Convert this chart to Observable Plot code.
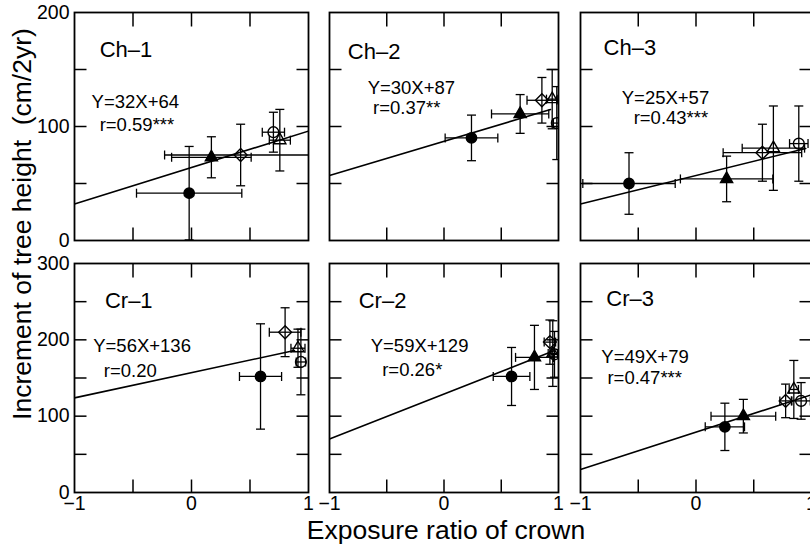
<!DOCTYPE html>
<html><head><meta charset="utf-8">
<script src="https://cdn.jsdelivr.net/npm/d3@7"></script>
<script src="https://cdn.jsdelivr.net/npm/@observablehq/plot@0.6"></script>
<style>
html,body{margin:0;padding:0;background:#fff;overflow:hidden;}
#wrap{position:relative;width:810px;height:545px;overflow:hidden;font-family:"Liberation Sans",Arial,Helvetica,sans-serif;color:#000;}
.panel{position:absolute;}
.lab{position:absolute;white-space:pre;transform:translate(-50%,-50%);font-size:26.5px;line-height:1;}
</style></head><body><div id="wrap"></div>
<script>
// ---------- data ----------
const panelNames = ["Ch–1","Ch–2","Ch–3","Cr–1","Cr–2","Cr–3"];
const eqLabels = ["Y=32X+64","Y=30X+87","Y=25X+57","Y=56X+136","Y=59X+129","Y=49X+79"];
const rLabels = ["r=0.59***","r=0.37**","r=0.43***","r=0.20","r=0.26*","r=0.47***"];
// symbol classes: 0 filled circle, 1 filled triangle, 2 open diamond, 3 open triangle, 4 open circle
const ch1Class = [0, 1, 2, 4, 3];
const ch1X     = [-0.02, 0.17, 0.42, 0.70, 0.755];
const ch1Y     = [41.5, 73, 75, 95, 88];
const ch1XErr  = [0.45, 0.34, 0.65, 0.095, 0.09];
const ch1YErr  = [41, 18, 27, 17.5, 27];

const ch2Class = [0, 1, 2, 3, 4];
const ch2X     = [0.24, 0.665, 0.855, 0.945, 0.985];
const ch2Y     = [90, 111, 123, 124, 103];
const ch2XErr  = [0.23, 0.25, 0.13, 0.05, 0.03];
const ch2YErr  = [20, 17, 20, 26, 32];

const ch3Class = [0, 1, 2, 3, 4];
const ch3X     = [-0.58, 0.265, 0.575, 0.67, 0.89];
const ch3Y     = [50, 54, 77, 81, 85];
const ch3XErr  = [0.40, 0.40, 0.34, 0.27, 0.08];
const ch3YErr  = [27, 20, 25, 37, 33];

const cr1Class = [0, 2, 3, 4];
const cr1X     = [0.59, 0.80, 0.91, 0.935];
const cr1Y     = [152, 210, 189, 171];
const cr1XErr  = [0.18, 0.135, 0.06, 0.04];
const cr1YErr  = [69, 32, 25, 43];

const cr2Class = [0, 1, 2, 3, 4];
const cr2X     = [0.59, 0.79, 0.925, 0.95, 0.965];
const cr2Y     = [152, 177, 197, 182, 181];
const cr2XErr  = [0.16, 0.165, 0.05, 0.04, 0.03];
const cr2YErr  = [38, 42, 29, 43, 30];

const cr3Class = [0, 1, 2, 3, 4];
const cr3X     = [0.25, 0.41, 0.776, 0.847, 0.91];
const cr3Y     = [86, 100, 120, 135, 120];
const cr3XErr  = [0.17, 0.28, 0.05, 0.04, 0.08];
const cr3YErr  = [31, 22, 22, 38, 24];

// regression lines as drawn
const lineSlope     = [32, 30, 25, 33, 59, 49];
const lineIntercept = [64, 87, 57, 157, 129, 79];
const lineXEnd      = [1, 0.93, 0.95, 0.88, 0.96, 1];

const rowYMax = [200, 300];
const rowYLabels = [[0, 100, 200], [0, 100, 200, 300]];
const rowYMinor = [[50, 100, 150], [50, 100, 150, 200, 250]];
const xLabels = [-1, 0, 1];
const xMinor = [-0.5, 0, 0.5];

// ---------- layout ----------
const frameLeft = [74, 329, 580], frameW = [234, 229, 231];
const frameTop = [12, 263], frameH = [228, 229];
const titlePos = [[-0.785,167],[-0.84,165],[-0.80,169],[-0.74,251],[-0.745,251],[-0.776,254]];
const eqPos    = [[-0.854,121],[-0.667,134],[-0.643,125],[-0.84,192],[-0.64,192],[-0.82,178]];
const rPos     = [[-0.785,101],[-0.62,116],[-0.54,107],[-0.75,159],[-0.54,160],[-0.767,150]];

const sets = [
  [ch1Class, ch1X, ch1Y, ch1XErr, ch1YErr],
  [ch2Class, ch2X, ch2Y, ch2XErr, ch2YErr],
  [ch3Class, ch3X, ch3Y, ch3XErr, ch3YErr],
  [cr1Class, cr1X, cr1Y, cr1XErr, cr1YErr],
  [cr2Class, cr2X, cr2Y, cr2XErr, cr2YErr],
  [cr3Class, cr3X, cr3Y, cr3XErr, cr3YErr]
];
const classStyle = [
  {symbol: "circle", fill: "black", r: 5.2},
  {symbol: "triangle", fill: "black", r: 4.5},
  {symbol: "diamond2", fill: "none", r: 5.8},
  {symbol: "triangle", fill: "none", r: 4.5},
  {symbol: "circle", fill: "none", r: 5.4}
];

const seg = (fn) => ({draw(ctx, size) { const l = Math.sqrt(size / Math.PI); fn(ctx, l); }});
const hCap = seg((c, l) => { c.moveTo(-l, 0); c.lineTo(l, 0); });
const vCap = seg((c, l) => { c.moveTo(0, -l); c.lineTo(0, l); });
const tickUp = seg((c, l) => { c.moveTo(0, 0); c.lineTo(0, -l); });
const tickDown = seg((c, l) => { c.moveTo(0, 0); c.lineTo(0, l); });
const tickRight = seg((c, l) => { c.moveTo(0, 0); c.lineTo(l, 0); });
const tickLeft = seg((c, l) => { c.moveTo(0, 0); c.lineTo(-l, 0); });

const fmt = d => d < 0 ? "\u2212" + (-d) : String(d);
const wrap = document.getElementById("wrap");
const ML = 50, MR = 6, MT = 10, MB = 32;

for (let i = 0; i < 6; i++) {
  const row = Math.floor(i / 3), col = i % 3;
  const [cls, xs, ys, xe, ye] = sets[i];
  const pts = cls.map((c, k) => ({c, x: xs[k], y: ys[k], xe: xe[k], ye: ye[k]}));
  const line = [-1, lineXEnd[i]].map(x => ({x, y: lineSlope[i] * x + lineIntercept[i]}));
  const ek = {stroke: "black", strokeWidth: 1.3, clip: true};
  const tk = {stroke: "black", fill: "none", strokeWidth: 1.5};
  const marks = [
    Plot.line(line, {x: "x", y: "y", stroke: "black", strokeWidth: 1.6, clip: true}),
    Plot.link(pts, {x1: d => d.x - d.xe, x2: d => d.x + d.xe, y1: "y", y2: "y", ...ek}),
    Plot.link(pts, {x1: "x", x2: "x", y1: d => d.y - d.ye, y2: d => d.y + d.ye, ...ek}),
    Plot.dot(pts, {x: d => d.x - d.xe, y: "y", symbol: vCap, r: 4.5, fill: "none", ...ek}),
    Plot.dot(pts, {x: d => d.x + d.xe, y: "y", symbol: vCap, r: 4.5, fill: "none", ...ek}),
    Plot.dot(pts, {x: "x", y: d => d.y - d.ye, symbol: hCap, r: 4.5, fill: "none", ...ek}),
    Plot.dot(pts, {x: "x", y: d => d.y + d.ye, symbol: hCap, r: 4.5, fill: "none", ...ek}),
    ...classStyle.map((s, c) => Plot.dot(pts.filter(p => p.c === c), {
      x: "x", y: "y", symbol: s.symbol, r: s.r, fill: s.fill, stroke: "black", strokeWidth: 1.4, clip: true
    })),
    Plot.dot(xMinor, {x: d => d, frameAnchor: "bottom", symbol: tickUp, r: 13, ...tk}),
    Plot.dot(xMinor, {x: d => d, frameAnchor: "top", symbol: tickDown, r: 14, ...tk}),
    Plot.dot(rowYMinor[row], {y: d => d, frameAnchor: "left", symbol: tickRight, r: 12, ...tk}),
    Plot.dot(rowYMinor[row], {y: d => d, frameAnchor: "right", symbol: tickLeft, r: 12, ...tk}),
    Plot.frame({stroke: "black", strokeWidth: 1.8}),
    Plot.text([panelNames[i]], {x: titlePos[i][0], y: titlePos[i][1], text: d => d, textAnchor: "start", fontSize: 22}),
    Plot.text([eqLabels[i]], {x: eqPos[i][0], y: eqPos[i][1], text: d => d, textAnchor: "start", fontSize: 18.5}),
    Plot.text([rLabels[i]], {x: rPos[i][0], y: rPos[i][1], text: d => d, textAnchor: "start", fontSize: 18.5})
  ];
  const chart = Plot.plot({
    width: frameW[col] + ML + MR,
    height: frameH[row] + MT + MB,
    marginLeft: ML, marginRight: MR, marginTop: MT, marginBottom: MB,
    style: {fontFamily: '"Liberation Sans", Arial, Helvetica, sans-serif', fontSize: "19.5px", background: "transparent", overflow: "visible", color: "black"},
    x: {domain: [-1, 1], axis: row === 1 ? "bottom" : null, ticks: xLabels, tickSize: 0, tickPadding: 4, tickFormat: fmt, label: null},
    y: {domain: [0, rowYMax[row]], axis: col === 0 ? "left" : null, ticks: rowYLabels[row], tickSize: 0, tickPadding: 5, tickFormat: fmt, label: null},
    marks
  });
  chart.classList.add("panel");
  chart.style.left = (frameLeft[col] - ML) + "px";
  chart.style.top = (frameTop[row] - MT) + "px";
  wrap.appendChild(chart);
}

const yl = document.createElement("div");
yl.className = "lab";
yl.textContent = "Increment of tree height  (cm/2yr)";
yl.style.left = "22px"; yl.style.top = "224px";
yl.style.transform = "translate(-50%,-50%) rotate(-90deg)";
wrap.appendChild(yl);
const xl = document.createElement("div");
xl.className = "lab";
xl.textContent = "Exposure ratio of crown";
xl.style.left = "446px"; xl.style.top = "530px";
wrap.appendChild(xl);
</script></body></html>
